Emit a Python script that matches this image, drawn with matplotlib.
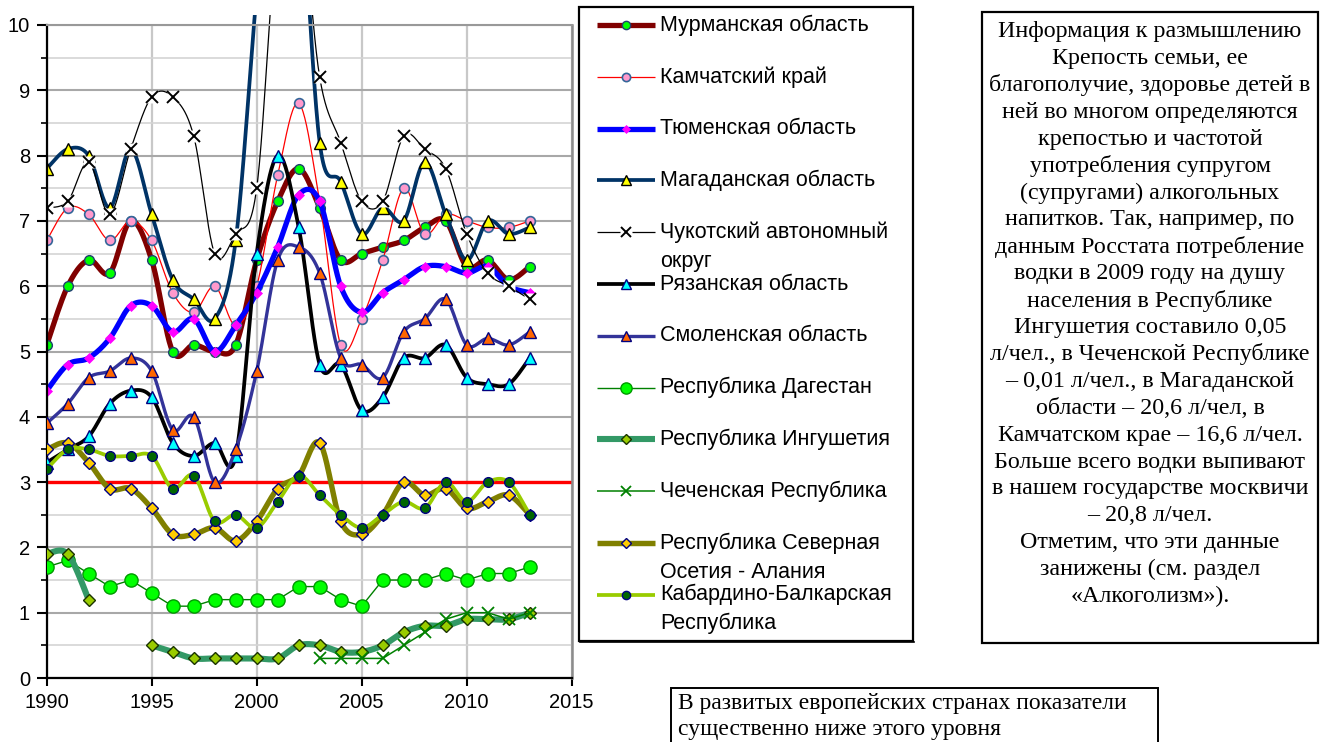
import numpy as np
import matplotlib
matplotlib.use("Agg")
import matplotlib.pyplot as plt
from matplotlib.lines import Line2D
from matplotlib.patches import Rectangle
from matplotlib.transforms import Bbox, TransformedBbox

# ---------------- data ----------------
years = list(range(1990, 2014))
nan = float("nan")

murmansk  = [5.1, 6.0, 6.4, 6.2, 7.0, 6.4, 5.0, 5.1, 5.0, 5.1, 6.4, 7.3, 7.8, 7.2, 6.4, 6.5, 6.6, 6.7, 6.9, 7.0, 6.3, 6.4, 6.1, 6.3]
kamchatka = [6.7, 7.2, 7.1, 6.7, 7.0, 6.7, 5.9, 5.6, 6.0, 5.4, 6.0, 7.7, 8.8, 7.3, 5.1, 5.5, 6.4, 7.5, 6.8, 7.1, 7.0, 6.9, 6.9, 7.0]
tyumen    = [4.4, 4.8, 4.9, 5.2, 5.7, 5.7, 5.3, 5.5, 5.0, 5.4, 5.9, 6.6, 7.4, 7.3, 6.0, 5.6, 5.9, 6.1, 6.3, 6.3, 6.2, 6.3, 6.0, 5.9]
magadan   = [7.8, 8.1, 8.0, 7.2, 8.1, 7.1, 6.1, 5.8, 5.5, 6.7, 10.5, 14.0, 12.5, 8.2, 7.6, 6.8, 7.2, 7.0, 7.9, 7.1, 6.4, 7.0, 6.8, 6.9]
chukotka  = [7.2, 7.3, 7.9, 7.1, 8.1, 8.9, 8.9, 8.3, 6.5, 6.8, 7.5, 11.5, 12.0, 9.2, 8.2, 7.3, 7.3, 8.3, 8.1, 7.8, 6.8, 6.2, 6.0, 5.8]
ryazan    = [3.3, 3.5, 3.7, 4.2, 4.4, 4.3, 3.6, 3.4, 3.6, 3.4, 6.5, 8.0, 6.9, 4.8, 4.8, 4.1, 4.3, 4.9, 4.9, 5.1, 4.6, 4.5, 4.5, 4.9]
smolensk  = [3.9, 4.2, 4.6, 4.7, 4.9, 4.7, 3.8, 4.0, 3.0, 3.5, 4.7, 6.4, 6.6, 6.2, 4.9, 4.8, 4.6, 5.3, 5.5, 5.8, 5.1, 5.2, 5.1, 5.3]
dagestan  = [1.7, 1.8, 1.6, 1.4, 1.5, 1.3, 1.1, 1.1, 1.2, 1.2, 1.2, 1.2, 1.4, 1.4, 1.2, 1.1, 1.5, 1.5, 1.5, 1.6, 1.5, 1.6, 1.6, 1.7]
ingushetia = [1.9, 1.9, 1.2, nan, nan, 0.5, 0.4, 0.3, 0.3, 0.3, 0.3, 0.3, 0.5, 0.5, 0.4, 0.4, 0.5, 0.7, 0.8, 0.8, 0.9, 0.9, 0.9, 1.0]
chechnya  = [nan] * 13 + [0.3, 0.3, 0.3, 0.3, 0.5, 0.7, 0.9, 1.0, 1.0, 0.9, 1.0]
n_ossetia = [3.5, 3.6, 3.3, 2.9, 2.9, 2.6, 2.2, 2.2, 2.3, 2.1, 2.4, 2.9, 3.1, 3.6, 2.4, 2.2, 2.5, 3.0, 2.8, 2.9, 2.6, 2.7, 2.8, 2.5]
kbr       = [3.2, 3.5, 3.5, 3.4, 3.4, 3.4, 2.9, 3.1, 2.4, 2.5, 2.3, 2.7, 3.1, 2.8, 2.5, 2.3, 2.5, 2.7, 2.6, 3.0, 2.7, 3.0, 3.0, 2.5]

series_names = ["Мурманская область", "Камчатский край", "Тюменская область",
                "Магаданская область", "Чукотский автономный\nокруг", "Рязанская область",
                "Смоленская область", "Республика Дагестан", "Республика Ингушетия",
                "Чеченская Республика", "Республика Северная\nОсетия - Алания",
                "Кабардино-Балкарская\nРеспублика"]
series_values = [murmansk, kamchatka, tyumen, magadan, chukotka, ryazan, smolensk,
                 dagestan, ingushetia, chechnya, n_ossetia, kbr]

reference_level = 3.0
x_ticks = [1990, 1995, 2000, 2005, 2010, 2015]
y_ticks = list(range(0, 11))

info_lines = ["Информация к размышлению", "Крепость семьи, ее",
              "благополучие, здоровье детей в", "ней во многом определяются",
              "крепостью и частотой", "употребления супругом",
              "(супругами) алкогольных", "напитков. Так, например, по",
              "данным Росстата потребление", "водки в 2009 году на душу",
              "населения в Республике", "Ингушетия составило 0,05",
              "л/чел., в Чеченской Республике", "– 0,01 л/чел., в Магаданской",
              "области – 20,6 л/чел, в", "Камчатском крае – 16,6 л/чел.",
              "Больше всего водки выпивают", "в нашем государстве москвичи",
              "– 20,8 л/чел.", "Отметим, что эти данные",
              "занижены (см. раздел", "«Алкоголизм»)."]
note_lines = ["В развитых европейских странах показатели",
              "существенно ниже этого уровня"]

# ---------------- styles ----------------
styles = [
    dict(color="#800000", lw=3.8, marker="o", ms=7, mfc="#00FF00", mec="#1F3F6F", mew=1.0, smooth=True),
    dict(color="#FF0000", lw=0.9, marker="o", ms=7, mfc="#FF99CC", mec="#336699", mew=1.2, smooth=True),
    dict(color="#0000FF", lw=3.8, marker="D", ms=5, mfc="#FF00FF", mec="#FF00FF", mew=0.5, smooth=True),
    dict(color="#003366", lw=2.7, marker="^", ms=9, mfc="#FFFF00", mec="#000000", mew=1.0, smooth=True),
    dict(color="#000000", lw=0.9, marker="x", ms=8, mfc="none", mec="#000000", mew=1.4, smooth=True, halo=True),
    dict(color="#000000", lw=2.7, marker="^", ms=9, mfc="#00FFFF", mec="#000080", mew=1.0, smooth=True),
    dict(color="#333399", lw=2.4, marker="^", ms=8.5, mfc="#FF6600", mec="#000080", mew=1.0, smooth=True),
    dict(color="#008000", lw=1.0, marker="o", ms=9.5, mfc="#00FF00", mec="#009900", mew=1.0, smooth=False),
    dict(color="#339966", lw=4.4, marker="D", ms=6, mfc="#99CC00", mec="#1A3300", mew=1.0, smooth=True),
    dict(color="#008000", lw=1.1, marker="x", ms=8, mfc="none", mec="#008000", mew=1.3, smooth=False),
    dict(color="#808000", lw=3.9, marker="D", ms=6, mfc="#FFCC00", mec="#000080", mew=1.0, smooth=True),
    dict(color="#99CC00", lw=2.7, marker="o", ms=7, mfc="#006600", mec="#000080", mew=1.0, smooth=True),
]

W, H = 1327, 742
SANS = ["Liberation Sans", "DejaVu Sans"]
SERIF = ["Liberation Serif", "DejaVu Serif"]
plt.rcParams["font.family"] = SANS


def px_rect(l, t, r, b):
    return [l / W, 1 - b / H, (r - l) / W, (b - t) / H]


def bezier_smooth(xs, ys, n=24):
    xs = np.asarray(xs, float)
    ys = np.asarray(ys, float)
    m = len(xs)
    ox, oy = [], []
    for i in range(m - 1):
        x0, y0 = (xs[i - 1], ys[i - 1]) if i > 0 else (xs[i], ys[i])
        x1, y1 = xs[i], ys[i]
        x2, y2 = xs[i + 1], ys[i + 1]
        x3, y3 = (xs[i + 2], ys[i + 2]) if i + 2 < m else (x2, y2)
        c1x, c1y = x1 + (x2 - x0) / 6, y1 + (y2 - y0) / 6
        c2x, c2y = x2 - (x3 - x1) / 6, y2 - (y3 - y1) / 6
        t = np.linspace(0, 1, n, endpoint=(i == m - 2))
        a, b, c, d = (1 - t) ** 3, 3 * (1 - t) ** 2 * t, 3 * (1 - t) * t ** 2, t ** 3
        ox.append(a * x1 + b * c1x + c * c2x + d * x2)
        oy.append(a * y1 + b * c1y + c * c2y + d * y2)
    return np.concatenate(ox), np.concatenate(oy)


fig = plt.figure(figsize=(W / 100, H / 100), dpi=100)
fig.patch.set_facecolor("white")

ax = fig.add_axes(px_rect(46.7, 25, 571.7, 678))
ax.set_xlim(1990, 2015)
ax.set_ylim(0, 10)
ax.set_xticks(x_ticks)
ax.set_yticks(y_ticks)
ax.set_yticks(np.arange(0.5, 10, 0.5), minor=True)
ax.yaxis.grid(True, which="major", color="#A8A8A8", lw=1.5, zorder=0)
ax.yaxis.grid(True, which="minor", color="#D4D4D4", lw=1.2, zorder=0)
ax.xaxis.grid(True, which="major", color="#C8C8C8", lw=1.6, zorder=0)
ax.set_axisbelow(True)
for s in ["left", "bottom"]:
    ax.spines[s].set_color("black")
    ax.spines[s].set_linewidth(1.6)
ax.spines["top"].set_color("#999999")
ax.spines["top"].set_linewidth(1.5)
ax.spines["right"].set_color("#8C8C8C")
ax.spines["right"].set_linewidth(1.8)
ax.tick_params(axis="y", which="major", length=7, width=1.5, labelsize=14.5, pad=5)
ax.tick_params(axis="y", which="minor", length=4, width=1.2)
ax.tick_params(axis="x", which="major", length=6, width=1.5, labelsize=14.5, pad=5)

clipbox = TransformedBbox(Bbox.from_extents(0, 0, 1, 1 + 10 / 653), ax.transAxes)


def clip(artist):
    artist.set_clip_path(None)
    artist.set_clip_box(clipbox)


ax.axhline(reference_level, color="#FF0000", lw=2.4, zorder=1.5)

yrs = np.array(years, float)
for i, (vals, st) in enumerate(zip(series_values, styles)):
    z = 2 + i * 0.1
    y = np.array(vals, float)
    mask = ~np.isnan(y)
    idx = np.where(mask)[0]
    runs = np.split(idx, np.where(np.diff(idx) > 1)[0] + 1)
    for r in runs:
        if len(r) < 2:
            continue
        if st["smooth"] and len(r) > 2:
            sx, sy = bezier_smooth(yrs[r], y[r])
        else:
            sx, sy = yrs[r], y[r]
        ln, = ax.plot(sx, sy, color=st["color"], lw=st["lw"], solid_capstyle="round",
                      solid_joinstyle="round", zorder=z)
        clip(ln)
    if st.get("halo"):
        h, = ax.plot(yrs[mask], y[mask], ls="none", marker="s", ms=st["ms"] * 1.05,
                     mfc="white", mec="none", zorder=z + 0.04)
        clip(h)
    mk, = ax.plot(yrs[mask], y[mask], ls="none", marker=st["marker"], ms=st["ms"],
                  mfc=st["mfc"], mec=st["mec"], mew=st["mew"], zorder=z + 0.05)
    clip(mk)

# ---------------- overlay: legend and text boxes ----------------
ov = fig.add_axes([0, 0, 1, 1])
ov.set_xlim(0, W)
ov.set_ylim(H, 0)
ov.axis("off")

# legend frame
ov.add_patch(Rectangle((579, 7), 334, 634, fill=False, edgecolor="black", lw=1.6))
ov.add_line(Line2D([580, 914], [642, 642], color="black", lw=1.2))
leg_y0, leg_step = 25, 51.8
for i, (name, st) in enumerate(zip(series_names, styles)):
    yy = leg_y0 + i * leg_step
    ov.add_line(Line2D([597, 655], [yy, yy], color=st["color"], lw=st["lw"],
                       solid_capstyle="butt"))
    if st.get("halo"):
        ov.add_line(Line2D([626], [yy], ls="none", marker="s", ms=st["ms"] * 1.05,
                           mfc="white", mec="none"))
    ov.add_line(Line2D([626], [yy], ls="none", marker=st["marker"], ms=st["ms"] * 0.85,
                       mfc=st["mfc"], mec=st["mec"], mew=st["mew"]))
    for k, part in enumerate(name.split("\n")):
        ov.text(660, yy + k * 29, part, fontsize=15.5, family=SANS, ha="left", va="center")

# info box
ov.add_patch(Rectangle((982, 12), 336, 631, fill=True, facecolor="white",
                       edgecolor="black", lw=1.6))
for k, line in enumerate(info_lines):
    ov.text(1150, 31.7 + k * 26.9, line, fontsize=17.3, family=SERIF, ha="center", va="center")

# bottom note box
ov.add_patch(Rectangle((671, 688), 487, 80, fill=True, facecolor="white",
                       edgecolor="black", lw=1.4, clip_on=False))
for k, line in enumerate(note_lines):
    ov.text(678, 703 + k * 26, line, fontsize=17, family=SERIF, ha="left", va="center")

fig.savefig("out.png", dpi=100, facecolor="white")
